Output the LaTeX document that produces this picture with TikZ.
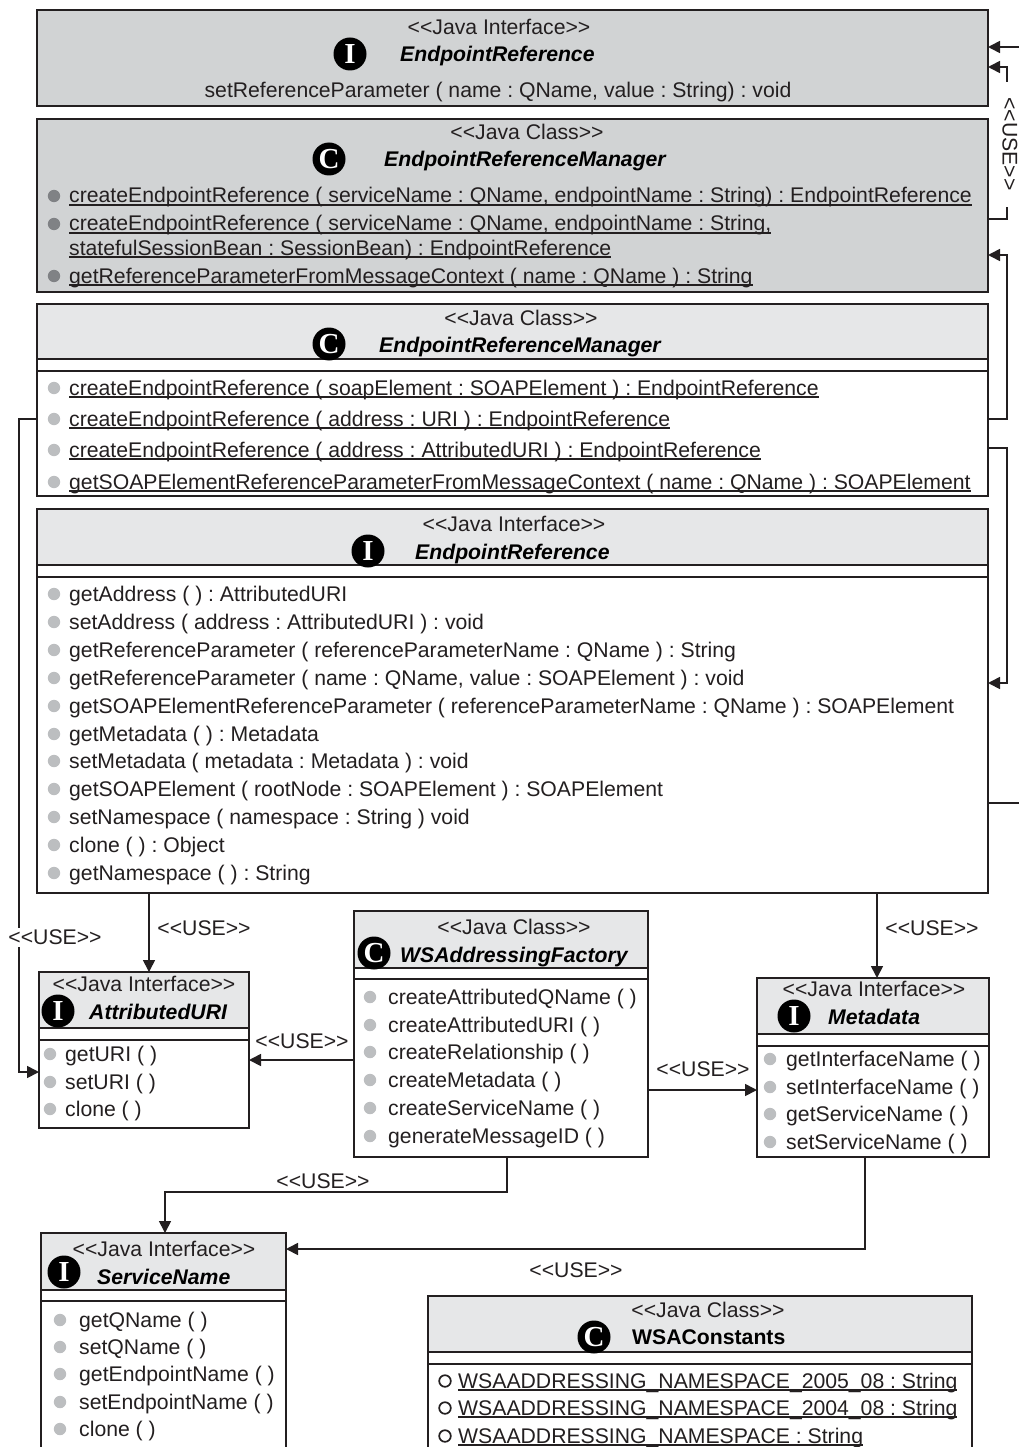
\documentclass[tikz,border=0pt]{standalone}
\usepackage{fontspec}
\setmainfont{Liberation Sans}
\newfontfamily\iconfont{Liberation Serif}
\usetikzlibrary{arrows.meta}
\definecolor{ink}{HTML}{231F20}
\definecolor{headA}{HTML}{D1D3D4}
\definecolor{headB}{HTML}{E6E7E8}
\definecolor{dot}{HTML}{BCBEC0}
\definecolor{dotdark}{HTML}{808285}
\frenchspacing
\newcommand\ulin[1]{\setbox0\hbox{#1}\rlap{\rule[-2.6pt]{\wd0}{1.2pt}}\box0}
\newcommand\LLa{<{}<}
\newcommand\RRa{>{}>}
\newcommand\useword{\LLa USE\RRa}
\newcommand\umlbox[6]{\node[umlframe,fill=#6,anchor=north west,minimum width={(#4-#2)*1pt},minimum height={(#5-#3)*1pt}] (#1) at (#2,#3) {};}
\newcommand\stereo[4]{\node[stereotext] (#1) at (#2,#3) {\LLa #4\RRa};}
\newcommand\icon[4]{\node[iconst] (#1) at (#2,#3) {#4};}
\newcommand\cname[4]{\node[nametext] (#1) at (#2,#3+7) {#4};}
\newcommand\mem[6]{\fill[#2] (#3,#5) circle (6.2);\node[rowtext] (#1) at (#4,#5+7) {#6};}
\newcommand\memnb[4]{\node[rowtext] (#1) at (#2,#3+7) {#4};}
\newcommand\constm[5]{\draw[ink,line width=1.7pt] (#2,#4) circle (5.8);\node[rowtext] (#1) at (#3,#4+7) {\ulin{#5}};}
\tikzset{
 umlframe/.style={draw=ink,line width=1.9pt,inner sep=0,outer sep=0,rectangle},
 umlline/.style={draw=ink,line width=1.9pt},
 stereotext/.style={inner sep=0,text=ink,font=\fontsize{21.2}{22}\selectfont},
 nametext/.style={inner sep=0,anchor=base west,text=black,font=\fontsize{21.2}{22}\selectfont\bfseries\itshape},
 rowtext/.style={inner sep=0,anchor=base west,text=ink,font=\fontsize{21.2}{22}\selectfont},
 iconst/.style={circle,fill=black,text=white,inner sep=0,minimum size=33pt,font=\fontsize{29}{29}\selectfont\iconfont\bfseries},
 uselabel/.style={inner sep=2pt,fill=white,text=ink,font=\fontsize{21.2}{22}\selectfont},
 usearrow/.style={draw=ink,line width=1.7pt,-{Triangle[length=12pt,width=12pt]}},
 useline/.style={draw=ink,line width=1.7pt},
}
\begin{document}
\begin{tikzpicture}[x=1pt,y=-1pt]
\useasboundingbox (0,0) rectangle (1019,1447);
\clip (0,0) rectangle (1019,1447);
\fill[white] (0,0) rectangle (1019,1447);
% boxes
\umlbox{ifaceTop}{37}{10}{988}{106}{headA}
\umlbox{mgrTop}{37}{119}{988}{292}{headA}
\umlbox{mgr}{37}{304}{988}{496}{white}
\umlbox{iface}{37}{509}{988}{893}{white}
\umlbox{auri}{39}{972}{249}{1128}{white}
\umlbox{factory}{354}{911}{648}{1157}{white}
\umlbox{meta}{757}{978}{989}{1157}{white}
\umlbox{svc}{41}{1233}{286}{1470}{white}
\umlbox{wsa}{428}{1296}{972}{1470}{white}
% header bands
\fill[headB] (mgr.west |- 0,304) rectangle (mgr.east |- 0,359);
\fill[headB] (iface.west |- 0,509) rectangle (iface.east |- 0,565);
\fill[headB] (auri.west |- 0,972) rectangle (auri.east |- 0,1028);
\fill[headB] (factory.west |- 0,911) rectangle (factory.east |- 0,968);
\fill[headB] (meta.west |- 0,978) rectangle (meta.east |- 0,1034);
\fill[headB] (svc.west |- 0,1233) rectangle (svc.east |- 0,1290);
\fill[headB] (wsa.west |- 0,1296) rectangle (wsa.east |- 0,1352);
\draw[umlline] (mgr.north west) rectangle (mgr.south east);
\draw[umlline] (iface.north west) rectangle (iface.south east);
\draw[umlline] (auri.north west) rectangle (auri.south east);
\draw[umlline] (factory.north west) rectangle (factory.south east);
\draw[umlline] (meta.north west) rectangle (meta.south east);
\draw[umlline] (svc.north west) rectangle (svc.south east);
\draw[umlline] (wsa.north west) rectangle (wsa.south east);
% compartment lines
\foreach \n/\a/\b in {mgr/359/371,iface/565/577,auri/1028/1040,factory/968/979,meta/1034/1046,svc/1290/1301,wsa/1352/1364}{
  \draw[umlline] (\n.west |- 0,\a) -- (\n.east |- 0,\a);
  \draw[umlline] (\n.west |- 0,\b) -- (\n.east |- 0,\b);
}
% ifaceTop
\stereo{s1}{499}{27}{Java Interface}
\icon{i1}{350}{54}{I}
\cname{n1}{400}{55}{EndpointReference}
\node[rowtext,anchor=base] (r1) at (498,98) {setReferenceParameter ( name : QName, value : String) : void};
% mgrTop
\stereo{s2}{527}{132}{Java Class}
\icon{i2}{329}{159}{C}
\cname{n2}{384}{160}{EndpointReferenceManager}
\mem{a1}{dotdark}{54}{69}{196}{\ulin{createEndpointReference ( serviceName : QName, endpointName : String) : EndpointReference}}
\mem{a2}{dotdark}{54}{69}{224}{\ulin{createEndpointReference ( serviceName : QName, endpointName : String,}}
\memnb{a3}{69}{248}{\ulin{statefulSessionBean : SessionBean) : EndpointReference}}
\mem{a4}{dotdark}{54}{69}{276}{\ulin{getReferenceParameterFromMessageContext ( name : QName ) : String}}
% mgr
\stereo{s3}{521}{318}{Java Class}
\icon{i3}{329}{344}{C}
\cname{n3}{379}{345}{EndpointReferenceManager}
\mem{b1}{dot}{54}{69}{388}{\ulin{createEndpointReference ( soapElement : SOAPElement ) : EndpointReference}}
\mem{b2}{dot}{54}{69}{419}{\ulin{createEndpointReference ( address : URI ) : EndpointReference}}
\mem{b3}{dot}{54}{69}{450}{\ulin{createEndpointReference ( address : AttributedURI ) : EndpointReference}}
\mem{b4}{dot}{54}{69}{482}{\ulin{getSOAPElementReferenceParameterFromMessageContext ( name : QName ) : SOAPElement}}
% iface
\stereo{s4}{514}{524}{Java Interface}
\icon{i4}{368}{551}{I}
\cname{n4}{415}{552}{EndpointReference}
\mem{c1}{dot}{54}{69}{594}{getAddress ( ) : AttributedURI}
\mem{c2}{dot}{54}{69}{622}{setAddress ( address : AttributedURI ) : void}
\mem{c3}{dot}{54}{69}{650}{getReferenceParameter ( referenceParameterName : QName ) : String}
\mem{c4}{dot}{54}{69}{678}{getReferenceParameter ( name : QName, value : SOAPElement ) : void}
\mem{c5}{dot}{54}{69}{706}{getSOAPElementReferenceParameter ( referenceParameterName : QName ) : SOAPElement}
\mem{c6}{dot}{54}{69}{734}{getMetadata ( ) : Metadata}
\mem{c7}{dot}{54}{69}{761}{setMetadata ( metadata : Metadata ) : void}
\mem{c8}{dot}{54}{69}{789}{getSOAPElement ( rootNode : SOAPElement ) : SOAPElement}
\mem{c9}{dot}{54}{69}{817}{setNamespace ( namespace : String ) void}
\mem{c10}{dot}{54}{69}{845}{clone ( ) : Object}
\mem{c11}{dot}{54}{69}{873}{getNamespace ( ) : String}
% auri
\stereo{s5}{144}{984}{Java Interface}
\icon{i5}{58}{1011}{I}
\cname{n5}{89}{1012}{AttributedURI}
\mem{d1}{dot}{50}{65}{1054}{getURI ( )}
\mem{d2}{dot}{50}{65}{1082}{setURI ( )}
\mem{d3}{dot}{50}{65}{1109}{clone ( )}
% factory
\stereo{s6}{514}{927}{Java Class}
\icon{i6}{374}{953}{C}
\cname{n6}{400}{955}{WSAddressingFactory}
\mem{e1}{dot}{370}{388}{997}{createAttributedQName ( )}
\mem{e2}{dot}{370}{388}{1025}{createAttributedURI ( )}
\mem{e3}{dot}{370}{388}{1052}{createRelationship ( )}
\mem{e4}{dot}{370}{388}{1080}{createMetadata ( )}
\mem{e5}{dot}{370}{388}{1108}{createServiceName ( )}
\mem{e6}{dot}{370}{388}{1136}{generateMessageID ( )}
% meta
\stereo{s7}{874}{989}{Java Interface}
\icon{i7}{794}{1016}{I}
\cname{n7}{828}{1017}{Metadata}
\mem{f1}{dot}{770}{786}{1059}{getInterfaceName ( )}
\mem{f2}{dot}{770}{786}{1087}{setInterfaceName ( )}
\mem{f3}{dot}{770}{786}{1114}{getServiceName ( )}
\mem{f4}{dot}{770}{786}{1142}{setServiceName ( )}
% svc
\stereo{s8}{164}{1249}{Java Interface}
\icon{i8}{64}{1272}{I}
\cname{n8}{97}{1277}{ServiceName}
\mem{g1}{dot}{60}{79}{1320}{getQName ( )}
\mem{g2}{dot}{60}{79}{1347}{setQName ( )}
\mem{g3}{dot}{60}{79}{1374}{getEndpointName ( )}
\mem{g4}{dot}{60}{79}{1402}{setEndpointName ( )}
\mem{g5}{dot}{60}{79}{1429}{clone ( )}
% wsa
\stereo{s9}{708}{1310}{Java Class}
\icon{i9}{594}{1337}{C}
\node[nametext,font=\fontsize{21.2}{22}\selectfont\bfseries] (n9) at (632,1344) {WSAConstants};
\constm{h1}{445}{458}{1381}{WSAADDRESSING\_NAMESPACE\_2005\_08 : String}
\constm{h2}{445}{458}{1408}{WSAADDRESSING\_NAMESPACE\_2004\_08 : String}
\constm{h3}{445}{458}{1436}{WSAADDRESSING\_NAMESPACE : String}
% connectors
\coordinate (freeTop) at (1019,47);
\coordinate (freeRight) at (1019,803);
\draw[usearrow] (freeTop) -- (ifaceTop.east |- freeTop);
\draw[useline] (mgrTop.east |- 0,219) -- (1007,219) -- (1007,207);
\draw[usearrow] (1007,82) -- (1007,67) -- (ifaceTop.east |- 0,67);
\node[uselabel,rotate=-90,fill=none] (l1) at (1010,144) {\useword};
\draw[usearrow] (mgr.east |- 0,419) -- (1007,419) -- (1007,255) -- (mgrTop.east |- 0,255);
\draw[usearrow] (mgr.east |- 0,448) -- (1007,448) -- (1007,683) -- (iface.east |- 0,683);
\draw[useline] (iface.east |- freeRight) -- (freeRight);
\draw[usearrow] (mgr.west |- 0,419) -- (19,419) -- (19,1072) -- (auri.west |- 0,1072);
\node[uselabel] (l2) at (55,937) {\useword};
\draw[usearrow] (149,893) -- (149,972);
\node[uselabel,fill=none] (l3) at (204,928) {\useword};
\draw[usearrow] (877,893) -- (877,978);
\node[uselabel,fill=none] (l4) at (932,928) {\useword};
\draw[usearrow] (factory.west |- 0,1060) -- (auri.east |- 0,1060);
\node[uselabel,fill=none] (l5) at (302,1041) {\useword};
\draw[usearrow] (factory.east |- 0,1090) -- (meta.west |- 0,1090);
\node[uselabel,fill=none] (l6) at (703,1069) {\useword};
\draw[usearrow] (507,1157) -- (507,1192) -- (165,1192) -- (165,1233);
\node[uselabel,fill=none] (l7) at (323,1181) {\useword};
\draw[usearrow] (865,1157) -- (865,1249) -- (svc.east |- 0,1249);
\node[uselabel,fill=none] (l8) at (576,1270) {\useword};
\end{tikzpicture}
\end{document}
